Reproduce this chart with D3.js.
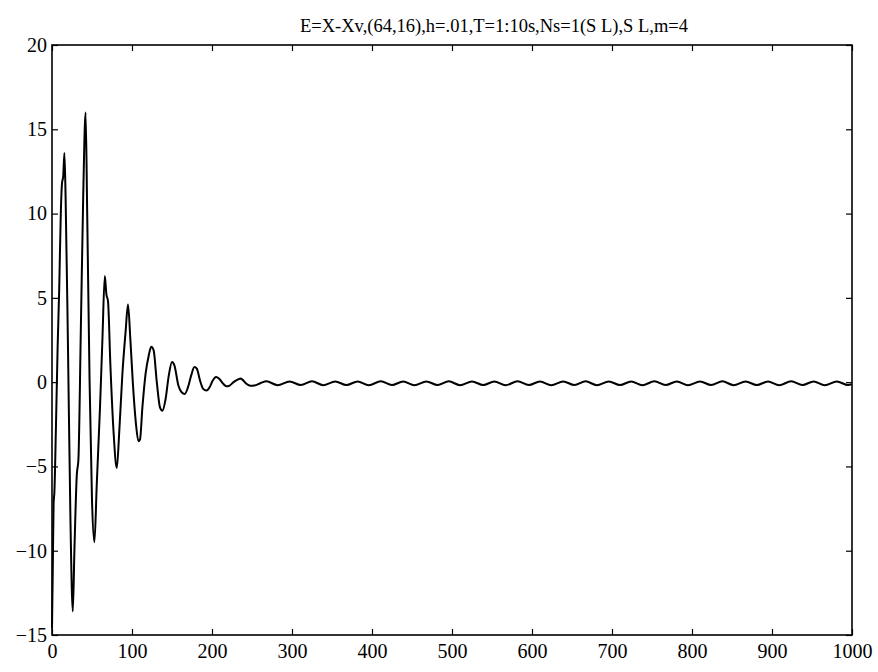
<!DOCTYPE html>
<html>
<head>
<meta charset="utf-8">
<script src="https://cdn.jsdelivr.net/npm/d3@7"></script>
<style>
  body { margin: 0; background: #fff; }
  svg text { font-family: "Liberation Serif", "DejaVu Serif", serif; fill: #000; }
</style>
</head>
<body>
<div id="d3-container"></div>
<script>
/* CONSTANTS AND GLOBALS */
const width = 878,
  height = 672,
  margin = { top: 45, bottom: 37, left: 52, right: 26 };

const chartTitle = "E=X-Xv,(64,16),h=.01,T=1:10s,Ns=1(S L),S L,m=4";
const xTicks = [0, 100, 200, 300, 400, 500, 600, 700, 800, 900, 1000];
const yTicks = [-15, -10, -5, 0, 5, 10, 15, 20];

// sample index
const stepK = [
  0, 1, 2, 3, 5, 7, 9, 11, 12.5, 14, 15.5, 17, 20, 23, 26, 28, 31, 33, 36, 39,
  42, 44, 47, 50, 53, 56, 60, 63, 66, 68, 70, 73, 77, 81, 84, 88, 92, 95, 98, 101,
  105, 108, 110, 113, 117, 121, 124, 127, 131, 135, 138, 142, 146, 150, 153, 158, 162, 166, 170, 174,
  178, 181, 185, 189, 193, 197, 201, 205, 209, 214, 218, 222, 227, 232, 236, 238, 243, 248, 253, 261,
  268, 282, 297, 311, 325, 339, 354, 368, 382, 396, 411, 425, 439, 453, 468, 482, 496, 510, 525, 539,
  553, 567, 582, 596, 610, 624, 639, 653, 667, 681, 696, 710, 724, 738, 753, 767, 781, 795, 810, 824,
  838, 852, 867, 881, 895, 909, 924, 938, 952, 966, 981, 995, 1000
];
// error E at each sample
const errE = [
  -14.6, -11, -7.2, -6.5, -2.5, 2, 5.5, 10, 11.8, 12.2, 13.6, 11, 2, -8, -13.6, -10, -5.5, -4.6, 3, 11,
  16, 10, 0, -7, -9.5, -6, -1.5, 2.5, 6.3, 5.2, 4.8, 1, -3, -5.1, -3, 0.5, 3, 4.6, 2.5, 0,
  -2.5, -3.5, -3.4, -1.5, 0.5, 1.6, 2.1, 1.9, 0, -1.5, -1.7, -1.0, 0.4, 1.2, 1.0, -0.2, -0.6, -0.7, -0.3, 0.4,
  0.9, 0.8, 0.1, -0.4, -0.5, -0.3, 0.1, 0.3, 0.2, -0.1, -0.25, -0.2, 0.0, 0.15, 0.22, 0.15, -0.1, -0.22, -0.2, -0.05,
  0.05, -0.18, 0.04, -0.17, 0.05, -0.18, 0.04, -0.17, 0.04, -0.18, 0.05, -0.17, 0.04, -0.18, 0.04, -0.17, 0.05, -0.18, 0.04, -0.17,
  0.04, -0.18, 0.05, -0.17, 0.04, -0.18, 0.04, -0.17, 0.05, -0.18, 0.04, -0.17, 0.04, -0.18, 0.05, -0.17, 0.04, -0.18, 0.04, -0.17,
  0.05, -0.18, 0.04, -0.17, 0.04, -0.18, 0.05, -0.17, 0.04, -0.18, 0.04, -0.17, -0.12
];

/* INITIALIZING FUNCTION */
function init() {
  const svg = d3.select("#d3-container")
    .append("svg")
    .attr("width", width)
    .attr("height", height);

  const xScale = d3.scaleLinear()
    .domain([0, 1000])
    .range([margin.left, width - margin.right]);

  const yScale = d3.scaleLinear()
    .domain([-15, 20])
    .range([height - margin.bottom, margin.top]);

  const tickFont = "20px";

  // bottom axis with labels, ticks pointing in
  svg.append("g")
    .attr("transform", `translate(0,${height - margin.bottom})`)
    .call(d3.axisBottom(xScale).tickValues(xTicks).tickFormat(d3.format("d"))
      .tickSizeInner(-6).tickSizeOuter(0).tickPadding(9))
    .call(g => g.select(".domain").remove())
    .call(g => g.selectAll("text").style("font-size", tickFont).attr("font-family", null));

  // top axis, ticks only
  svg.append("g")
    .attr("transform", `translate(0,${margin.top})`)
    .call(d3.axisTop(xScale).tickValues(xTicks).tickSizeInner(-6).tickSizeOuter(0).tickFormat(""))
    .call(g => g.select(".domain").remove());

  // left axis with labels
  svg.append("g")
    .attr("transform", `translate(${margin.left},0)`)
    .call(d3.axisLeft(yScale).tickValues(yTicks).tickSizeInner(-6).tickSizeOuter(0).tickPadding(5))
    .call(g => g.select(".domain").remove())
    .call(g => g.selectAll("text").style("font-size", tickFont).attr("font-family", null));

  // right axis, ticks only
  svg.append("g")
    .attr("transform", `translate(${width - margin.right},0)`)
    .call(d3.axisRight(yScale).tickValues(yTicks).tickSizeInner(-6).tickSizeOuter(0).tickFormat(""))
    .call(g => g.select(".domain").remove());

  svg.selectAll(".tick line").attr("stroke", "#000").attr("stroke-width", 1.2);

  // frame
  svg.append("rect")
    .attr("x", margin.left)
    .attr("y", margin.top)
    .attr("width", width - margin.left - margin.right)
    .attr("height", height - margin.top - margin.bottom)
    .attr("fill", "none")
    .attr("stroke", "#000")
    .attr("stroke-width", 1.6);

  // the error curve
  const line = d3.line()
    .x((d, i) => xScale(stepK[i]))
    .y(d => yScale(d))
    .curve(d3.curveMonotoneX);

  svg.append("path")
    .datum(errE)
    .attr("d", line)
    .attr("fill", "none")
    .attr("stroke", "#000")
    .attr("stroke-width", 2)
    .attr("stroke-linejoin", "round");

  // title
  svg.append("text")
    .attr("x", 494)
    .attr("y", 32)
    .attr("text-anchor", "middle")
    .style("font-size", "18.5px")
    .text(chartTitle);
}

init();
</script>
</body>
</html>
